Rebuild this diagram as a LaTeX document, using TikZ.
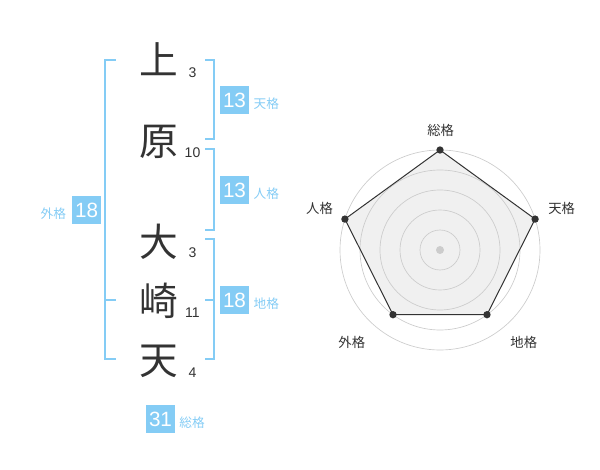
\documentclass[tikz,border=0pt]{standalone}
\usepackage{fontspec}
\setmainfont{Liberation Sans}
\newfontfamily\cjk{Noto Sans CJK JP}
\definecolor{kakublue}{HTML}{84CCF5}
\definecolor{inkgray}{HTML}{333333}
\tikzset{every picture/.style={line width=0.75pt}}

\begin{document}
\begin{tikzpicture}[x=0.75pt,y=0.75pt,yscale=-1,xscale=1,
	kanji/.style={inner sep=0pt,text=inkgray,font=\cjk\fontsize{29}{29}\selectfont},
	strokes/.style={inner sep=0pt,text=inkgray,font=\fontsize{10.5}{10.5}\selectfont},
	kakubox/.style={fill=kakublue,text=white,inner sep=0pt,minimum width=21.75pt,minimum height=21pt,font=\fontsize{15.5}{15.5}\selectfont},
	kakulabel/.style={inner sep=0pt,text=kakublue,font=\cjk\fontsize{9.5}{9.5}\selectfont},
	bracket/.style={draw=kakublue,line width=1.5pt},
	ring/.style={draw=black!20,line width=0.5pt},
	axislabel/.style={inner sep=0pt,text=inkgray,font=\cjk\fontsize{10}{10}\selectfont},
	dot/.style={circle,fill=inkgray,inner sep=0pt,minimum size=5.5pt}]
	\useasboundingbox (0,0) rectangle (600,470);
	
	%Shape: Bracket [id:gaikaku] 
	\draw [bracket]   (115.7,60) -- (105,60) -- (105,359.3) -- (115.7,359.3) (105,300) -- (115.7,300) ;
	%Shape: Bracket [id:tenkaku] 
	\draw [bracket]   (205,60) -- (214.3,60) -- (214.3,139.3) -- (205,139.3) ;
	%Shape: Bracket [id:jinkaku] 
	\draw [bracket]   (205,149.3) -- (214.3,149.3) -- (214.3,230) -- (205,230) ;
	%Shape: Bracket [id:chikaku] 
	\draw [bracket]   (205,239.3) -- (214.3,239.3) -- (214.3,359.3) -- (205,359.3) (205,300) -- (214.3,300) ;
	
	% Text Node
	\node [kanji] (ue) at (159,59) {上};
	\node [kanji] (hara) at (159,141.5) {原};
	\node [kanji] (oo) at (159,241.7) {大};
	\node [kanji] (saki) at (159,300.5) {崎};
	\node [kanji] (ten) at (159,361) {天};
	% Text Node
	\node [strokes] (nUe) at (192.5,72.8) {3};
	\node [strokes] (nHara) at (192.5,152.8) {10};
	\node [strokes] (nOo) at (192.5,252.5) {3};
	\node [strokes] (nSaki) at (192.5,312.8) {11};
	\node [strokes] (nTen) at (192.5,373) {4};
	
	% Text Node
	\node [kakubox] (tenBox) at (234.5,100.2) {13};
	\node [kakulabel] (tenLbl) at (266.3,104) {天格};
	\node [kakubox] (jinBox) at (234.5,190.2) {13};
	\node [kakulabel] (jinLbl) at (266.3,194) {人格};
	\node [kakubox] (chiBox) at (234.5,300.2) {18};
	\node [kakulabel] (chiLbl) at (266.3,304) {地格};
	\node [kakubox] (gaiBox) at (86.7,210.2) {18};
	\node [kakulabel] (gaiLbl) at (53.3,214) {外格};
	\node [kakubox] (souBox) at (160.5,419.2) {31};
	\node [kakulabel] (souLbl) at (192,422.8) {総格};
	
	%Shape: Polygon [id:score] 
	\coordinate (pSou) at (440,150);
	\coordinate (pTen) at (535.1,219.1);
	\coordinate (pChi) at (487,314.7);
	\coordinate (pGai) at (393,314.7);
	\coordinate (pJin) at (344.9,219.1);
	\fill [black!6]   (pSou) -- (pTen) -- (pChi) -- (pGai) -- (pJin) -- cycle ;
	
	%Shape: Circle [id:radar] 
	\foreach \r in {20,40,...,100}
	\draw [ring]   (440,250) circle (\r) ;
	\node [circle,fill=black!20,inner sep=0pt,minimum size=6pt] (hub) at (440,250) {};
	
	\draw [inkgray]   (pSou) -- (pTen) -- (pChi) -- (pGai) -- (pJin) -- cycle ;
	\foreach \p in {pSou,pTen,pChi,pGai,pJin}
	\node [dot] at (\p) {};
	
	% Text Node
	\node [axislabel] (aSou) at (440.7,130) {総格};
	\node [axislabel] (aTen) at (561.7,208.3) {天格};
	\node [axislabel] (aChi) at (523.8,342.5) {地格};
	\node [axislabel] (aGai) at (351.8,342.5) {外格};
	\node [axislabel] (aJin) at (319.5,208.3) {人格};
	
\end{tikzpicture}
\end{document}
